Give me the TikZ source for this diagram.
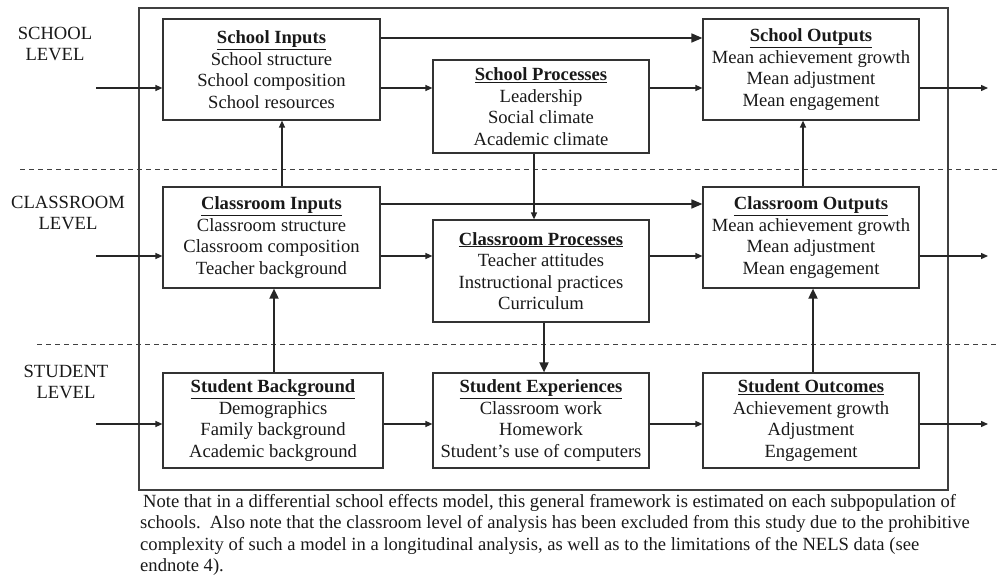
\documentclass[tikz,border=0pt]{standalone}
\usepackage{fontspec}
\setmainfont{Liberation Serif}
\usetikzlibrary{arrows.meta}
\begin{document}
\begin{tikzpicture}[x=1pt,y=-1pt,
  every node/.style={font=\fontsize{18.6}{21.5}\selectfont, text=black!90},
  box/.style={draw=black!80, line width=1.2pt, rectangle, inner sep=0pt, align=center},
  arr/.style={draw=black!85, line width=1.3pt, -{Triangle[length=7pt,width=6pt]}},
  longarr/.style={draw=black!85, line width=1.6pt, -{Triangle[length=11pt,width=9pt]}},
  bigarr/.style={draw=black!85, line width=1.8pt, -{Triangle[length=10pt,width=9pt]}},
  lvl/.style={align=center, inner sep=0pt},
  sepline/.style={draw=black!75, line width=1pt, dash pattern=on 5pt off 4pt}
]
\useasboundingbox (0,0) rectangle (998,577);
% outer frame
\draw[black!75, line width=1.3pt] (139,8) rectangle (948,490);
% level separators
\draw[sepline] (20,170) -- (998,170);
\draw[sepline] (37,344) -- (998,344);
% level labels
\node[lvl] (lsch) at (55,44) {SCHOOL\\LEVEL};
\node[lvl] (lcls) at (68,213) {CLASSROOM\\LEVEL};
\node[lvl] (lstu) at (66,382) {STUDENT\\LEVEL};
% boxes
\node[box, minimum width=217pt, minimum height=101pt] (SI) at (271.5,69.5)
  {\underline{\textbf{School Inputs}}\\School structure\\School composition\\School resources};
\node[box, minimum width=216pt, minimum height=93pt] (SP) at (541,106.5)
  {\underline{\textbf{School Processes}}\\Leadership\\Social climate\\Academic climate};
\node[box, minimum width=216pt, minimum height=101pt] (SO) at (811,69.5)
  {\underline{\textbf{School Outputs}}\\Mean achievement growth\\Mean adjustment\\Mean engagement};
\node[box, minimum width=217pt, minimum height=101pt] (CI) at (271.5,237.5)
  {\underline{\textbf{Classroom Inputs}}\\Classroom structure\\Classroom composition\\Teacher background};
\node[box, minimum width=216pt, minimum height=102pt] (CP) at (541,271)
  {\underline{\textbf{Classroom Processes}}\\Teacher attitudes\\Instructional practices\\Curriculum};
\node[box, minimum width=216pt, minimum height=101pt] (CO) at (811,237.5)
  {\underline{\textbf{Classroom Outputs}}\\Mean achievement growth\\Mean adjustment\\Mean engagement};
\node[box, minimum width=220pt, minimum height=95pt] (SB) at (273,420.5)
  {\underline{\textbf{Student Background}}\\Demographics\\Family background\\Academic background};
\node[box, minimum width=216pt, minimum height=95pt] (SE) at (541,420.5)
  {\underline{\textbf{Student Experiences}}\\Classroom work\\Homework\\Student’s use of computers};
\node[box, minimum width=216pt, minimum height=95pt] (ST) at (811,420.5)
  {\underline{\textbf{Student Outcomes}}\\Achievement growth\\Adjustment\\Engagement};
% helper coordinates
\coordinate (ya) at (0,38);
\coordinate (y1) at (0,88);
\coordinate (yb) at (0,204);
\coordinate (y2) at (0,256);
\coordinate (y3) at (0,424);
\coordinate (in1) at (96,88);
\coordinate (in2) at (96,256);
\coordinate (in3) at (96,424);
\coordinate (out1) at (988,88);
\coordinate (out2) at (988,256);
\coordinate (out3) at (988,424);
\coordinate (xa) at (282,0);
\coordinate (xb) at (534,0);
\coordinate (xc) at (803,0);
\coordinate (xd) at (274,0);
\coordinate (xe) at (544,0);
\coordinate (xf) at (813,0);
% inputs
\draw[arr] (in1) -- (SI.west |- y1);
\draw[arr] (in2) -- (CI.west |- y2);
\draw[arr] (in3) -- (SB.west |- y3);
% school level
\draw[longarr] (SI.east |- ya) -- (SO.west |- ya);
\draw[arr] (SI.east |- y1) -- (SP.west |- y1);
\draw[arr] (SP.east |- y1) -- (SO.west |- y1);
\draw[arr] (SO.east |- y1) -- (out1);
% classroom level
\draw[longarr] (CI.east |- yb) -- (CO.west |- yb);
\draw[arr] (CI.east |- y2) -- (CP.west |- y2);
\draw[arr] (CP.east |- y2) -- (CO.west |- y2);
\draw[arr] (CO.east |- y2) -- (out2);
% student level
\draw[arr] (SB.east |- y3) -- (SE.west |- y3);
\draw[arr] (SE.east |- y3) -- (ST.west |- y3);
\draw[arr] (ST.east |- y3) -- (out3);
% verticals
\draw[arr] (xa |- CI.north) -- (xa |- SI.south);
\draw[arr] (xb |- SP.south) -- (xb |- CP.north);
\draw[arr] (xc |- CO.north) -- (xc |- SO.south);
\draw[bigarr] (xd |- SB.north) -- (xd |- CI.south);
\draw[bigarr] (xe |- CP.south) -- (xe |- SE.north);
\draw[bigarr] (xf |- ST.north) -- (xf |- CO.south);
% note
\node[anchor=north west, align=left, inner sep=0pt] (note) at (140,494)
  {\hspace{3pt}Note that in a differential school effects model, this general framework is estimated on each subpopulation of\\
   schools.\ \ Also note that the classroom level of analysis has been excluded from this study due to the prohibitive\\
   complexity of such a model in a longitudinal analysis, as well as to the limitations of the NELS data (see\\
   endnote 4).};
\end{tikzpicture}
\end{document}
